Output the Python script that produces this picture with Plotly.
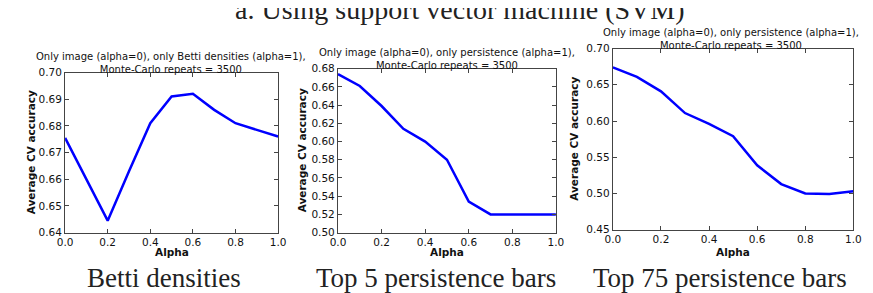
import plotly.graph_objects as go

alpha = [0.0, 0.1, 0.2, 0.3, 0.4, 0.5, 0.6, 0.7, 0.8, 0.9, 1.0]
acc_betti = [0.6755, 0.660, 0.6445, 0.663, 0.681, 0.691, 0.692, 0.686, 0.681, 0.6785, 0.676]
acc_top5 = [0.674, 0.661, 0.639, 0.614, 0.600, 0.580, 0.534, 0.520, 0.520, 0.520, 0.520]
acc_top75 = [0.674, 0.661, 0.641, 0.611, 0.596, 0.579, 0.539, 0.513, 0.500, 0.4995, 0.503]

panel_titles = [
    "Only image (alpha=0), only Betti densities (alpha=1),<br>Monte-Carlo repeats = 3500",
    "Only image (alpha=0), only persistence (alpha=1),<br>Monte-Carlo repeats = 3500",
    "Only image (alpha=0), only persistence (alpha=1),<br>Monte-Carlo repeats = 3500",
]
captions = ["Betti densities", "Top 5 persistence bars", "Top 75 persistence bars"]
main_title = "a. Using support vector machine (SVM)"
y_ranges = [(0.64, 0.70), (0.50, 0.68), (0.45, 0.70)]
y_dticks = [0.01, 0.02, 0.05]
x_ticks = [0.0, 0.2, 0.4, 0.6, 0.8, 1.0]

W, H = 873, 293
# pixel boxes (left, right, top, bottom)
boxes = [(50, 267, 61, 228), (328, 550, 57, 228), (608, 853, 36, 225)]
title_tops = [37, 32, 11]
ylab_x = [15, 291, 569]
caption_x = [151, 428, 717]
title_x = [158, 439, 728]

def px(x):
    return x / W

def py(y):
    return 1 - y / H

fig = go.Figure()
series = [acc_betti, acc_top5, acc_top75]
axis_color = "#444444"
tick_font = dict(family="DejaVu Sans", size=10.5, color="#111111")
annotations = []
for i in range(3):
    l, r, t, b = boxes[i]
    xa = "x" if i == 0 else f"x{i+1}"
    ya = "y" if i == 0 else f"y{i+1}"
    fig.add_trace(go.Scatter(x=alpha, y=series[i], mode="lines",
                             line=dict(color="#0000ff", width=2.5),
                             xaxis=xa, yaxis=ya, showlegend=False))
    common = dict(showline=True, linecolor=axis_color, linewidth=1.2, mirror="ticks",
                  ticks="inside", ticklen=4, tickcolor=axis_color, showgrid=False,
                  zeroline=False, tickfont=tick_font)
    fig.layout[f"xaxis{'' if i == 0 else i+1}"] = dict(
        domain=[px(l), px(r)], anchor=ya, range=[0, 1], tickvals=x_ticks,
        ticktext=[f"{v:.1f}" for v in x_ticks], **common)
    y0, y1 = y_ranges[i]
    n = int(round((y1 - y0) / y_dticks[i]))
    yt = [y0 + k * y_dticks[i] for k in range(n + 1)]
    fig.layout[f"yaxis{'' if i == 0 else i+1}"] = dict(
        domain=[py(b), py(t)], anchor=xa, range=[y0, y1], tickvals=yt,
        ticktext=[f"{v:.2f}" for v in yt], **common)
    cx = (l + r) / 2
    annotations.append(dict(text=panel_titles[i], x=px(title_x[i]), y=py(title_tops[i]),
                            xref="paper", yref="paper", xanchor="center", yanchor="top",
                            showarrow=False, font=dict(family="DejaVu Sans", size=10, color="#111111")))
    annotations.append(dict(text="<b>Average CV accuracy</b>", x=px(ylab_x[i]), y=py((t + b) / 2),
                            xref="paper", yref="paper", xanchor="center", yanchor="middle",
                            textangle=-90, showarrow=False,
                            font=dict(family="DejaVu Sans", size=10.5, color="#111111")))
    annotations.append(dict(text="<b>Alpha</b>", x=px(cx), y=py(248),
                            xref="paper", yref="paper", xanchor="center", yanchor="middle",
                            showarrow=False, font=dict(family="DejaVu Sans", size=10.5, color="#111111")))
    annotations.append(dict(text=captions[i], x=px(caption_x[i]), y=py(275),
                            xref="paper", yref="paper", xanchor="center", yanchor="middle",
                            showarrow=False, font=dict(family="Liberation Serif", size=27, color="#222222")))

annotations.append(dict(text=main_title, x=px(452), y=py(-5), xref="paper", yref="paper",
                        xanchor="center", yanchor="middle", showarrow=False,
                        font=dict(family="Liberation Serif", size=28, color="#222222")))

fig.update_layout(width=W, height=H, margin=dict(l=0, r=0, t=0, b=0),
                  paper_bgcolor="white", plot_bgcolor="white", annotations=annotations)
fig.write_html("out.html")
